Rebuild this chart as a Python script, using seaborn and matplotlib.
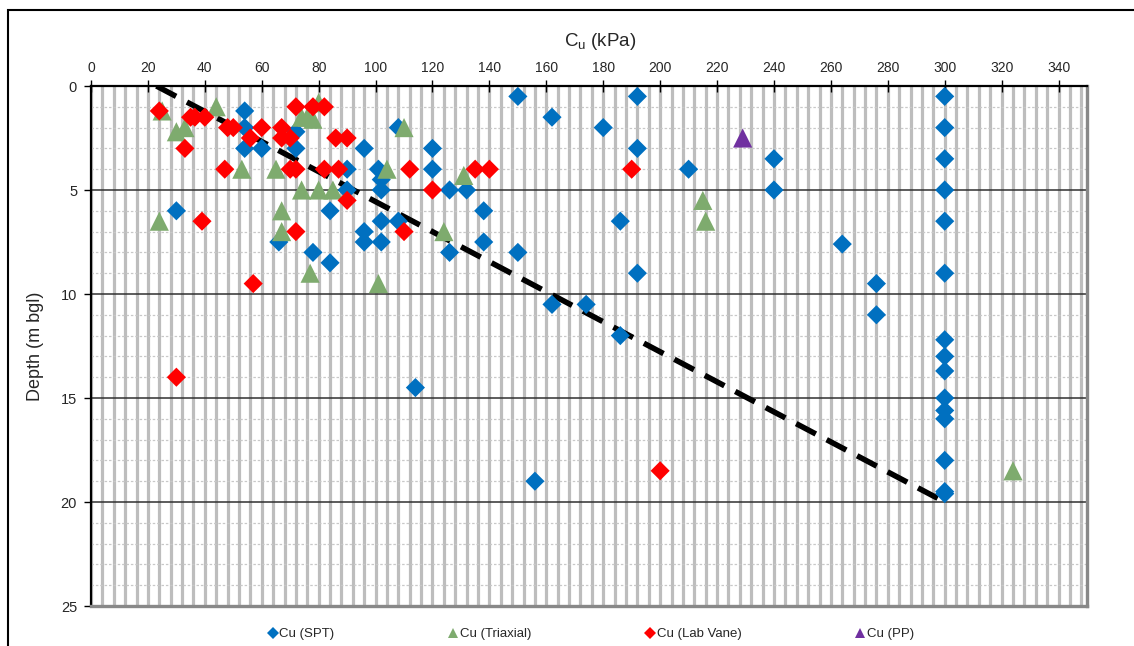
import numpy as np
import pandas as pd
import matplotlib
matplotlib.use("Agg")
import matplotlib.pyplot as plt
from matplotlib.patches import Rectangle
from matplotlib.lines import Line2D
from matplotlib.ticker import MultipleLocator
import seaborn as sns

# ---------------- data ----------------
spt_cu = [150, 192, 300, 162, 54, 54, 108, 180, 300, 54, 60, 72, 72, 96, 120,
          192, 300, 90, 101, 120, 210, 102, 90, 102, 126, 132, 240, 240, 300,
          30, 84, 138, 102, 108, 186, 300, 96, 66, 96, 102, 138, 264, 78, 126,
          150, 84, 192, 300, 276, 162, 174, 276, 186, 300, 300, 300, 114, 300,
          300, 300, 300, 156, 300, 300]
spt_depth = [0.5, 0.5, 0.5, 1.5, 1.2, 2.0, 2.0, 2.0, 2.0, 3.0, 3.0, 2.2, 3.0,
             3.0, 3.0, 3.0, 3.5, 4.0, 4.0, 4.0, 4.0, 4.5, 5.0, 5.0, 5.0, 5.0,
             3.5, 5.0, 5.0, 6.0, 6.0, 6.0, 6.5, 6.5, 6.5, 6.5, 7.0, 7.5, 7.5,
             7.5, 7.5, 7.6, 8.0, 8.0, 8.0, 8.5, 9.0, 9.0, 9.5, 10.5, 10.5, 11.0,
             12.0, 12.2, 13.0, 13.7, 14.5, 15.0, 15.6, 16.0, 18.0, 19.0, 19.5,
             19.6]

tri_cu = [25, 44, 80, 30, 33, 74, 76, 78, 110, 53, 65, 104, 131, 74, 80, 85,
          215, 24, 67, 216, 67, 124, 77, 101, 324]
tri_depth = [1.2, 1.0, 0.8, 2.2, 2.0, 1.5, 1.5, 1.6, 2.0, 4.0, 4.0, 4.0, 4.3,
             5.0, 5.0, 5.0, 5.5, 6.5, 6.0, 6.5, 7.0, 7.0, 9.0, 9.5, 18.5]

vane_cu = [24, 35, 36.5, 40, 48, 50, 60, 56, 67, 67, 70, 72, 78, 82, 86, 90,
           33, 47, 70, 72, 82, 87, 112, 135, 140, 190, 120, 90, 39, 72, 110,
           57, 30, 200]
vane_depth = [1.2, 1.5, 1.5, 1.5, 2.0, 2.0, 2.0, 2.5, 2.0, 2.5, 2.5, 1.0, 1.0,
              1.0, 2.5, 2.5, 3.0, 4.0, 4.0, 4.0, 4.0, 4.0, 4.0, 4.0, 4.0, 4.0,
              5.0, 5.5, 6.5, 7.0, 7.0, 9.5, 14.0, 18.5]

pp_cu = [229]
pp_depth = [2.5]

trend_cu = [23, 300]
trend_depth = [0, 20]

series_names = ["Cu (SPT)", "Cu (Triaxial)", "Cu (Lab Vane)", "Cu (PP)"]
x_ticks = list(range(0, 341, 20))
y_ticks = [0, 5, 10, 15, 20, 25]

# ---------------- build frame ----------------
frames = []
for name, cu, dep in zip(series_names,
                         [spt_cu, tri_cu, vane_cu, pp_cu],
                         [spt_depth, tri_depth, vane_depth, pp_depth]):
    frames.append(pd.DataFrame({"Cu": cu, "Depth": dep, "Series": name}))
df = pd.concat(frames, ignore_index=True)
trend = pd.DataFrame({"Cu": trend_cu, "Depth": trend_depth})

# ---------------- style ----------------
sns.set_theme(style="white")
plt.rcParams["font.family"] = ["Liberation Sans", "DejaVu Sans"]
plt.rcParams["mathtext.default"] = "regular"

palette = {"Cu (SPT)": "#0070C0", "Cu (Triaxial)": "#7EAB6E",
           "Cu (Lab Vane)": "#FF0000", "Cu (PP)": "#7030A0"}
markers = {"Cu (SPT)": "D", "Cu (Triaxial)": "^",
           "Cu (Lab Vane)": "D", "Cu (PP)": "^"}
sizes = {"Cu (SPT)": 95, "Cu (Triaxial)": 190,
         "Cu (Lab Vane)": 95, "Cu (PP)": 190}

fig = plt.figure(figsize=(11.34, 6.46), dpi=100)
ax = fig.add_axes([91 / 1134, 1 - 606 / 646, (1087 - 91) / 1134, (606 - 86) / 646])

# grid
ax.set_xlim(0, 350)
ax.set_ylim(25, 0)
ax.xaxis.set_major_locator(MultipleLocator(20))
ax.xaxis.set_minor_locator(MultipleLocator(4))
ax.yaxis.set_major_locator(MultipleLocator(5))
ax.yaxis.set_minor_locator(MultipleLocator(1))
ax.grid(False)
ax.grid(which="minor", axis="y", color="#c8c8c8", linestyle=(0, (2, 1.5)), linewidth=0.9)
ax.grid(which="minor", axis="x", color="#bdbdbd", linestyle="-", linewidth=2.3)
ax.grid(which="major", axis="x", color="#bdbdbd", linestyle="-", linewidth=2.3)
ax.grid(which="major", axis="y", color="#303030", linestyle="-", linewidth=1.1)
ax.set_axisbelow(True)

sns.lineplot(data=trend, x="Cu", y="Depth", ax=ax, color="black",
             linewidth=4, linestyle=(0, (4, 2.2)), sort=False, legend=False,
             zorder=3)

sns.scatterplot(data=df, x="Cu", y="Depth", hue="Series", style="Series",
                size="Series", sizes=sizes, size_order=series_names,
                palette=palette, markers=markers, hue_order=series_names,
                style_order=series_names, linewidth=0, ax=ax,
                legend=False, zorder=4)

# axes cosmetics
ax.xaxis.tick_top()
ax.xaxis.set_label_position("top")
ax.set_xticks(x_ticks)
ax.set_yticks(y_ticks)
ax.set_xticklabels([str(v) for v in x_ticks], fontsize=10)
ax.set_yticklabels([str(v) for v in y_ticks], fontsize=10.5)
ax.tick_params(axis="x", which="major", direction="inout", length=8, width=1,
               color="black", pad=4, top=True, bottom=False)
ax.tick_params(axis="y", which="major", direction="out", length=5, width=1,
               color="black", pad=5, left=True)
ax.tick_params(which="minor", length=0)
ax.set_xlabel(r"C$_{u}$ (kPa)", fontsize=13.5)
ax.xaxis.set_label_coords((600 - 91) / (1087 - 91), 1 + 40 / 520)
ax.set_ylabel("Depth (m bgl)", fontsize=13)
ax.yaxis.set_label_coords(-(91 - 44) / (1087 - 91), 0.5)

for side in ["top", "left"]:
    ax.spines[side].set_color("black")
    ax.spines[side].set_linewidth(1.6)
for side in ["bottom", "right"]:
    ax.spines[side].set_color("#888888")
    ax.spines[side].set_linewidth(2.4)
for sp in ax.spines.values():
    sp.set_visible(True)
    sp.set_zorder(5)

# legend
handles = [Line2D([], [], linestyle="none", marker=markers[n], color=palette[n],
                  markersize=6 if markers[n] == "D" else 7, markeredgewidth=0)
           for n in series_names]
fig.legend(handles, series_names, loc="center", ncol=4, frameon=False,
           bbox_to_anchor=(590 / 1134, 1 - 634 / 646), fontsize=9.5,
           handletextpad=0.0, columnspacing=8.5, handlelength=1.0)

# outer border
fig.patches.append(Rectangle((8 / 1134, -0.2), 1.2, 1.2 - 10 / 646,
                             transform=fig.transFigure, fill=False,
                             edgecolor="black", linewidth=1.5))

fig.savefig("out.png", dpi=100)
